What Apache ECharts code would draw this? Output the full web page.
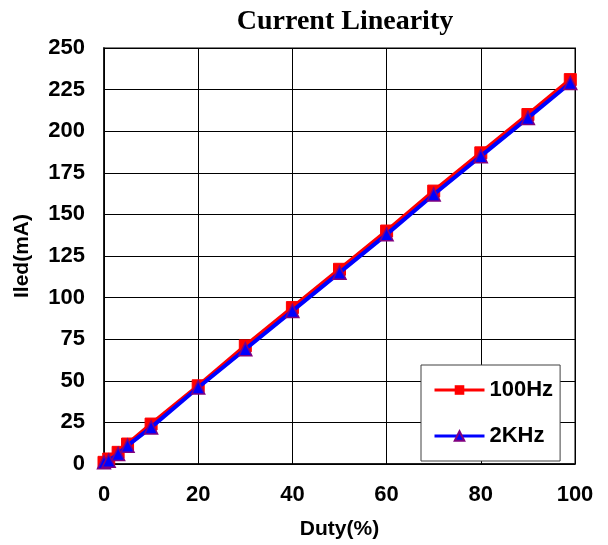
<!DOCTYPE html>
<html>
<head>
<meta charset="utf-8">
<script src="https://cdn.jsdelivr.net/npm/echarts@6/dist/echarts.min.js"></script>
<style>
  html, body { margin: 0; padding: 0; background: #fff; }
  #chart { width: 608px; height: 545px; }
</style>
</head>
<body>
<div id="chart"></div>
<script>
// duty values (%)
var duty = [0, 1, 3, 5, 10, 20, 30, 40, 50, 60, 70, 80, 90, 99];
// led current, mA
var i100Hz = [1, 3, 7, 12, 24, 47, 71, 94, 117, 140, 164, 187, 210, 231];
var i2KHz = [1, 2, 6, 11, 22, 46, 69, 92, 115, 138, 162, 185, 208, 229];
var xTicks = [0, 20, 40, 60, 80, 100];
var yTicks = [0, 25, 50, 75, 100, 125, 150, 175, 200, 225, 250];

function pairs(xs, ys) {
    return xs.map(function (x, i) { return [x, ys[i]]; });
}

var font = 'Liberation Sans, Arial, sans-serif';
var chart = echarts.init(document.getElementById('chart'), null, { renderer: 'canvas' });
chart.setOption({
    animation: false,
    backgroundColor: '#fff',
    title: {
        text: 'Current Linearity',
        left: 340, top: 3, textAlign: 'center',
        textStyle: { fontFamily: 'Liberation Serif, Times New Roman, serif', fontWeight: 'bold', fontSize: 28, color: '#000' }
    },
    grid: {
        left: 104, right: 33, top: 48, bottom: 81,
        show: true, borderColor: '#808080', borderWidth: 2, backgroundColor: '#fff'
    },
    legend: {
        orient: 'vertical',
        left: 421, top: 365,
        padding: [14, 7, 14, 12],
        itemGap: 24,
        itemWidth: 50, itemHeight: 12,
        backgroundColor: '#fff',
        borderColor: '#404040', borderWidth: 1,
        lineStyle: { width: 3 },
        textStyle: { fontFamily: font, fontWeight: 'bold', fontSize: 22, color: '#000' },
        data: ['100Hz', '2KHz']
    },
    xAxis: {
        type: 'value', min: 0, max: 100, interval: 20,
        axisLine: { show: true, lineStyle: { color: '#000', width: 1.5 } },
        axisTick: { show: false },
        splitLine: { show: true, lineStyle: { color: '#000', width: 1 } },
        axisLabel: {
            margin: 20, color: '#000', fontFamily: font, fontWeight: 'bold', fontSize: 22,
            formatter: function (v) { return xTicks.indexOf(v) >= 0 ? String(v) : ''; }
        },
        name: 'Duty(%)', nameLocation: 'middle', nameGap: 55,
        nameTextStyle: { color: '#000', fontFamily: font, fontWeight: 'bold', fontSize: 21 }
    },
    yAxis: {
        type: 'value', min: 0, max: 250, interval: 25,
        axisLine: { show: true, lineStyle: { color: '#000', width: 1.5 } },
        axisTick: { show: false },
        splitLine: { show: true, lineStyle: { color: '#000', width: 1 } },
        axisLabel: {
            margin: 19, color: '#000', fontFamily: font, fontWeight: 'bold', fontSize: 22,
            formatter: function (v) { return yTicks.indexOf(v) >= 0 ? String(v) : ''; }
        },
        name: 'Iled(mA)', nameLocation: 'middle', nameGap: 71, nameRotate: 90,
        nameTextStyle: { color: '#000', fontFamily: font, fontWeight: 'bold', fontSize: 21 }
    },
    series: [
        {
            name: '100Hz', type: 'line', data: pairs(duty, i100Hz),
            symbol: 'rect', symbolSize: 12, showAllSymbol: true,
            lineStyle: { color: '#ff0000', width: 4 },
            itemStyle: { color: '#ff0000', borderColor: '#ff0000' },
            z: 2
        },
        {
            name: '2KHz', type: 'line', data: pairs(duty, i2KHz),
            symbol: 'triangle', symbolSize: 13, showAllSymbol: true,
            lineStyle: { color: '#0000ff', width: 4 },
            itemStyle: { color: '#0000ff', borderColor: '#800080', borderWidth: 1.5 },
            z: 3
        }
    ]
});
</script>
</body>
</html>
